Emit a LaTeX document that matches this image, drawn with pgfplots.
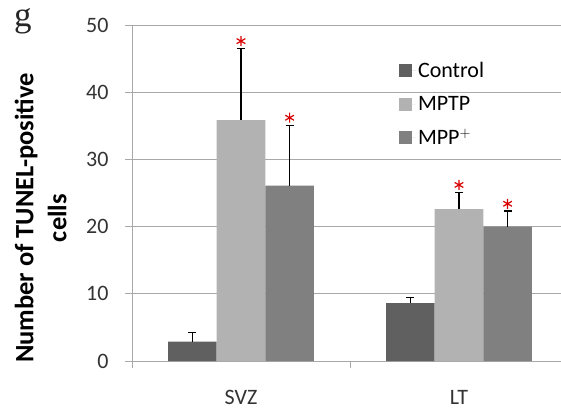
\documentclass[border=0pt]{standalone}
\usepackage{fontspec}
\setmainfont{Carlito}
\newfontfamily\gfont{Liberation Serif}
\usepackage{pgfplots}
\pgfplotsset{compat=1.18}
\definecolor{ctrl}{HTML}{606060}
\definecolor{mptp}{HTML}{B2B2B2}
\definecolor{mpp}{HTML}{808080}
\definecolor{gridc}{HTML}{A8A8A8}
\begin{document}
\begin{tikzpicture}
\useasboundingbox (-132pt,-48pt) rectangle (429pt,361pt);
\begin{axis}[
  name=ax,
  at={(0pt,0pt)}, anchor=south west,
  scale only axis,
  width=429pt, height=336pt,
  xmin=0, xmax=1.968,
  ymin=0, ymax=50,
  ytick={0,10,20,30,40,50},
  xtick={0.5,1.5},
  xticklabels={SVZ,LT},
  minor xtick={0,1},
  major x tick style={draw=none},
  minor x tick style={draw=gridc, line width=0.8pt},
  y tick style={draw=gridc, line width=0.8pt},
  tick align=outside,
  major tick length=7pt,
  minor tick length=7pt,
  axis lines*=left,
  axis line style={draw=gridc, line width=0.8pt},
  ymajorgrids,
  grid style={draw=gridc, line width=0.8pt},
  ticklabel style={font=\fontsize{22}{26}\selectfont, text=black!80},
  /pgf/number format/assume math mode=true,
  xticklabel style={yshift=-19pt},
  yticklabel style={xshift=-13pt},
  ybar, bar width=0.223,
  legend style={draw=none, fill=none, at={(0.622,0.895)}, anchor=north west,
    font=\fontsize{22}{26}\selectfont, row sep=13pt, inner sep=0pt},
  legend cell align=left,
  legend image code/.code={\fill[#1,draw=none] (0pt,-6.5pt) rectangle (13pt,6.5pt); \path (0pt,0pt) -- (17pt,0pt);},
  error bars/y dir=plus, error bars/y explicit,
  error bars/error mark options={rotate=90, mark size=4pt, line width=1.4pt, black},
  error bars/error bar style={line width=1.4pt, black},
]
\addplot[fill=ctrl, draw=none, bar shift=-0.223] coordinates {(0.5,2.87) +- (0,1.4) (1.5,8.63) +- (0,0.84)};
\addlegendentry{Control}
\addplot[fill=mptp, draw=none, bar shift=0] coordinates {(0.5,35.86) +- (0,10.64) (1.5,22.6) +- (0,2.45)};
\addlegendentry{MPTP}
\addplot[fill=mpp, draw=none, bar shift=0.223] coordinates {(0.5,26.1) +- (0,8.9) (1.5,20.0) +- (0,2.3)};
\addlegendentry{MPP$^{+}$}
\addplot[only marks, mark=asterisk, mark size=5pt, mark options={draw=red!85!black, line width=1.2pt}, bar shift=0, forget plot, error bars/y dir=none]
  coordinates {(0.5,47.6) (0.723,36.2) (1.5,26.2) (1.723,23.4)};
\end{axis}
\node[font=\gfont\fontsize{35}{35}\selectfont, anchor=base, text=black!85] at (-109pt,334pt) {g};
\node[rotate=90, anchor=south, align=center, font=\bfseries\fontsize{26.5}{33}\selectfont] at (-62pt,143pt) {Number of TUNEL-positive\\cells};
\end{tikzpicture}
\end{document}
